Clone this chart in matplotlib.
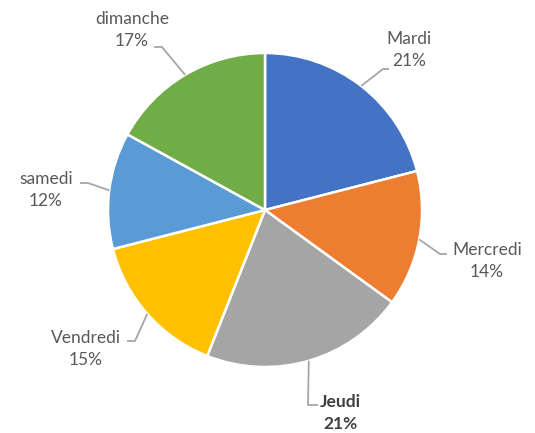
import numpy as np
import matplotlib.pyplot as plt

plt.rcParams["font.family"] = ["Lato", "DejaVu Sans"]

# Share of each day of the week
days = ["Mardi", "Mercredi", "Jeudi", "Vendredi", "samedi", "dimanche"]
shares = [21, 14, 21, 15, 12, 17]
colors = ["#4472C4", "#ED7D31", "#A5A5A5", "#FFC000", "#5B9BD5", "#70AD47"]

# Label centers and leader-line elbows, in pixel-like units (y up)
label_pos = [(409, 383), (487, 172), (340, 20), (86, 84), (46, 243), (132, 403)]
elbows = [[(383, 364), (389, 364)],
          [(440, 179), (447, 179)],
          [(308, 28), (318, 28)],
          [(135, 92), (127, 92)],
          [(88, 250), (80, 250)],
          [(162, 386), (154, 386)]]

W, H = 535, 433
cx, cy, R = 265, 223, 157

fig = plt.figure(figsize=(W / 100, H / 100), dpi=100)
ax = fig.add_axes([0, 0, 1, 1])

wedges, _ = ax.pie(shares, colors=colors, startangle=90, counterclock=False,
                   center=(cx, cy), radius=R, frame=True,
                   wedgeprops=dict(edgecolor="white", linewidth=1.8))
ax.set_xlim(0, W)
ax.set_ylim(0, H)
ax.set_aspect("equal")
ax.axis("off")

for w, day, pct, (lx, ly), elb in zip(wedges, days, shares, label_pos, elbows):
    mid = np.deg2rad((w.theta1 + w.theta2) / 2)
    x0, y0 = cx + R * np.cos(mid), cy + R * np.sin(mid)
    xs = [x0] + [p[0] for p in elb]
    ys = [y0] + [p[1] for p in elb]
    ax.plot(xs, ys, color="#A6A6A6", lw=1.3, solid_capstyle="butt")
    bold = day == "Jeudi"
    ax.text(lx, ly, f"{day}\n{pct}%", ha="center", va="center",
            fontsize=12.5, color="#404040" if bold else "#595959",
            fontweight="bold" if bold else "normal", linespacing=1.4)

fig.savefig("out.png", dpi=100)
